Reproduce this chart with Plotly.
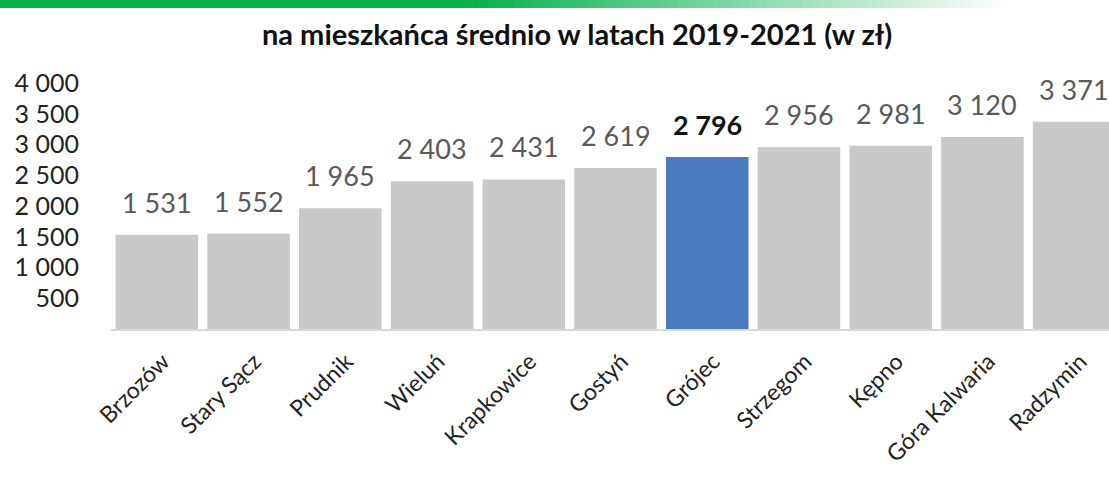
import plotly.graph_objects as go

categories = ["Brzozów", "Stary Sącz", "Prudnik", "Wieluń", "Krapkowice", "Gostyń",
              "Grójec", "Strzegom", "Kępno", "Góra Kalwaria", "Radzymin"]
values = [1531, 1552, 1965, 2403, 2431, 2619, 2796, 2956, 2981, 3120, 3371]
highlight = "Grójec"
y_ticks = [500, 1000, 1500, 2000, 2500, 3000, 3500, 4000]
title_text = "na mieszkańca średnio w latach 2019-2021 (w zł)"

W, H = 1109, 481
ML, MR, MT, MB = 111, 0, 83, 481 - 329
FONT = "Lato"

def fmt(v):
    return f"{v:,}".replace(",", " ")

colors = ["#4a7bbf" if c == highlight else "#c9c9c9" for c in categories]

fig = go.Figure(go.Bar(x=categories, y=values, marker_color=colors,
                       marker_line_width=0, hoverinfo="skip"))

annotations = []
for c, v in zip(categories, values):
    hl = c == highlight
    annotations.append(dict(
        x=c, y=v, xref="x", yref="y", yanchor="bottom", yshift=14,
        text=f"<b>{fmt(v)}</b>" if hl else fmt(v), showarrow=False,
        font=dict(family=FONT, size=27, color="#111111" if hl else "#595959")))

plot_w = W - ML - MR
plot_h = H - MT - MB
def px_x(p):  # pixel -> paper
    return (p - ML) / plot_w
def px_y(p):
    return 1 + (MT - p) / plot_h

annotations.append(dict(
    x=px_x(577), y=px_y(33), xref="paper", yref="paper",
    text=f"<b>{title_text}</b>", showarrow=False,
    xanchor="center", yanchor="middle",
    font=dict(family=FONT, size=29, color="#111111")))

# decorative green gradient band at top
shapes = [dict(type="rect", xref="paper", yref="paper", x0=px_x(0), x1=px_x(470),
               y0=px_y(8), y1=px_y(0), fillcolor="#08b04d", line_width=0, layer="above")]
g0 = (8, 176, 77)
n = 60
start, end = 470, 1010
for i in range(n):
    t = (i + 0.5) / n
    col = tuple(round(g0[k] + (255 - g0[k]) * t) for k in range(3))
    shapes.append(dict(type="rect", xref="paper", yref="paper",
                       x0=px_x(start + (end - start) * i / n),
                       x1=px_x(start + (end - start) * (i + 1) / n + 0.5),
                       y0=px_y(8), y1=px_y(0),
                       fillcolor=f"rgb{col}", line_width=0, layer="above"))

fig.update_layout(
    width=W, height=H,
    margin=dict(l=ML, r=MR, t=MT, b=MB),
    paper_bgcolor="white", plot_bgcolor="white",
    bargap=0.1, showlegend=False,
    separators=". ",
    annotations=annotations, shapes=shapes,
    xaxis=dict(range=[-0.5, 10.38], tickangle=-45, showgrid=False,
               showline=True, linecolor="#d9d9d9", linewidth=2,
               ticks="", ticklabelstandoff=8, ticklabelshift=6,
               tickfont=dict(family=FONT, size=23, color="#222222")),
    yaxis=dict(range=[0, 4000], tickvals=y_ticks, tickformat=",d",
               showgrid=False, zeroline=False, showline=False, ticks="",
               ticklabelstandoff=31,
               tickfont=dict(family=FONT, size=25, color="#222222")),
)

fig.write_html("out.html", config={"displayModeBar": False},
               post_script="document.body.style.margin='0';document.body.style.overflow='hidden';")
